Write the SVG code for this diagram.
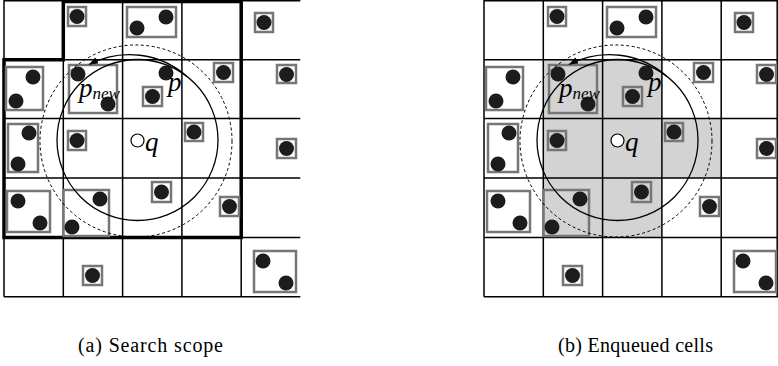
<svg xmlns="http://www.w3.org/2000/svg" xmlns:xlink="http://www.w3.org/1999/xlink" width="778" height="366" viewBox="0 0 778 366">
  <style>
    .grid { stroke: #000; stroke-width: 1.5; fill: none; }
    .bold { stroke: #000; stroke-width: 3.5; fill: none; stroke-linejoin: miter; }
    .box { stroke: #767676; stroke-width: 2.5; fill: none; }
    .dot { fill: #1c1c1c; }
    .qpt { fill: #fff; stroke: #000; stroke-width: 1.2; }
    .ring { fill: none; stroke: #000; stroke-width: 1.3; }
    .ring-dash { fill: none; stroke: #000; stroke-width: 1; stroke-dasharray: 3 2.5; }
    .lbl { font-family: "Liberation Serif", "DejaVu Serif", serif; font-style: italic; fill: #000; }
    .cap { font-family: "Liberation Serif", "DejaVu Serif", serif; font-size: 20px; fill: #000; }
  </style>
  <defs>
    <marker id="head" markerUnits="userSpaceOnUse" markerWidth="10" markerHeight="8" refX="9" refY="3.5" orient="auto">
      <path d="M0,0 L9,3.5 L0,7 z" fill="#000"/>
    </marker>
    <!-- grid lines shared by both panels -->
    <g id="cells">
      <path class="grid" d="M4,0.75 H300.3 M4,59.8 H300.3 M4,118.6 H300.3 M4,178 H300.3 M4,237.5 H300.3 M4,296.8 H300.3
                            M4,0 V296.8 M63.3,0 V296.8 M122.6,0 V296.8 M181.9,0 V296.8 M241.2,0 V296.8"/>
    </g>
    <!-- buckets (grey boxes) and data points -->
    <g id="points">
      <g id="boxes">
        <rect class="box" x="68" y="7" width="18" height="19"/>
        <rect class="box" x="127" y="7" width="49" height="30"/>
        <rect class="box" x="255" y="13" width="18" height="19"/>
        <rect class="box" x="6" y="67" width="37" height="43"/>
        <rect class="box" x="69" y="65" width="48" height="48"/>
        <rect class="box" x="143" y="87" width="19" height="19"/>
        <rect class="box" x="214" y="63" width="19" height="19"/>
        <rect class="box" x="277" y="65" width="19" height="18"/>
        <rect class="box" x="8" y="124" width="30" height="48"/>
        <rect class="box" x="68" y="131" width="18" height="19"/>
        <rect class="box" x="185" y="123" width="18" height="18"/>
        <rect class="box" x="277" y="139" width="19" height="19"/>
        <rect class="box" x="7" y="191" width="43" height="41"/>
        <rect class="box" x="63.5" y="190" width="45.5" height="46"/>
        <rect class="box" x="152" y="182" width="19" height="20"/>
        <rect class="box" x="220" y="197" width="19" height="19"/>
        <rect class="box" x="83" y="266" width="19" height="19"/>
        <rect class="box" x="254" y="251" width="42" height="41"/>
      </g>
      <g id="dots">
        <circle class="dot" cx="77" cy="16.5" r="7.5"/>
        <circle class="dot" cx="137" cy="28" r="7.5"/>
        <circle class="dot" cx="166" cy="17" r="7.5"/>
        <circle class="dot" cx="264" cy="22.5" r="7.5"/>
        <circle class="dot" cx="33" cy="77" r="7.5"/>
        <circle class="dot" cx="16" cy="101" r="7.5"/>
        <circle class="dot" cx="78" cy="74" r="7.5"/>
        <circle class="dot" cx="108" cy="104" r="7.5"/>
        <circle class="dot" cx="166" cy="73" r="7.5"/>
        <circle class="dot" cx="152.5" cy="96.5" r="7.5"/>
        <circle class="dot" cx="223.5" cy="72.5" r="7.5"/>
        <circle class="dot" cx="286.5" cy="74.5" r="7.5"/>
        <circle class="dot" cx="29" cy="133" r="7.5"/>
        <circle class="dot" cx="18" cy="164" r="7.5"/>
        <circle class="dot" cx="77" cy="140.5" r="7.5"/>
        <circle class="dot" cx="194" cy="132" r="7.5"/>
        <circle class="dot" cx="286.5" cy="148.5" r="7.5"/>
        <circle class="dot" cx="18" cy="201" r="7.5"/>
        <circle class="dot" cx="40" cy="223" r="7.5"/>
        <circle class="dot" cx="100" cy="199" r="7.5"/>
        <circle class="dot" cx="72" cy="227" r="7.5"/>
        <circle class="dot" cx="161.5" cy="192" r="7.5"/>
        <circle class="dot" cx="229.5" cy="206.5" r="7.5"/>
        <circle class="dot" cx="92.5" cy="275.5" r="7.5"/>
        <circle class="dot" cx="263" cy="261" r="7.5"/>
        <circle class="dot" cx="286" cy="283" r="7.5"/>
      </g>
      <!-- query point, search rings and the p -> p_new update arc -->
      <circle class="qpt" cx="137.5" cy="140.5" r="6.5"/>
      <circle class="ring" cx="137.5" cy="140" r="80.5"/>
      <circle class="ring-dash" cx="136" cy="141" r="96"/>
      <path class="ring" d="M187,76.5 A87,87 0 0 0 89,64.5" marker-end="url(#head)"/>
      <text class="lbl" x="79" y="97" font-size="27">p<tspan font-size="17" dy="2">new</tspan></text>
      <text class="lbl" x="168" y="91" font-size="27">p</text>
      <text class="lbl" x="145" y="151" font-size="27">q</text>
    </g>
  </defs>

  <!-- (a) search scope -->
  <g id="panel-a">
    <use xlink:href="#cells"/>
    <path id="scope" class="bold" d="M4,59.8 H63.3 V1.5 H241.2 V237.5 H4 Z"/>
    <use xlink:href="#points"/>
    <text id="caption-a" class="cap" x="78" y="352" textLength="145" lengthAdjust="spacing">(a) Search scope</text>
  </g>

  <!-- (b) enqueued cells -->
  <g id="panel-b">
    <polygon id="enqueued" fill="#d3d3d3" points="543.3,59.8 661.9,59.8 661.9,118.6 721.2,118.6 721.2,178 661.9,178 661.9,237.5 543.3,237.5"/>
    <use xlink:href="#cells" x="480"/>
    <path class="grid" d="M777.2,0 V296.8"/>
    <use xlink:href="#points" x="480"/>
    <text id="caption-b" class="cap" x="558" y="352" textLength="155" lengthAdjust="spacing">(b) Enqueued cells</text>
  </g>
</svg>
